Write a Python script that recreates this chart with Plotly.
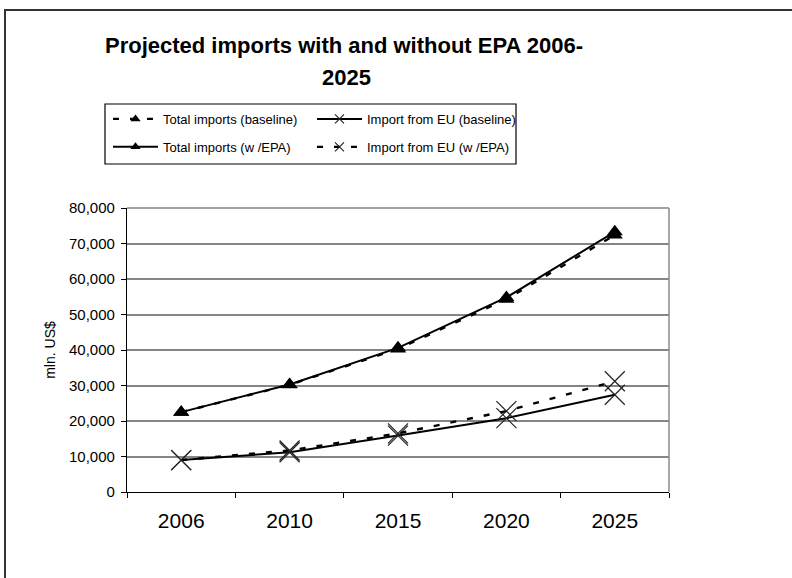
import plotly.graph_objects as go

# Projected import values, million US$
years = ["2006", "2010", "2015", "2020", "2025"]
total_baseline = [22500, 30200, 40300, 54300, 72400]
total_epa = [22500, 30300, 40600, 54800, 73300]
eu_baseline = [9000, 11200, 15900, 20800, 27400]
eu_epa = [9000, 11700, 16500, 22800, 31200]

series = [
    # name, values, dashed, symbol, legend column
    ("Total imports (baseline)", total_baseline, True, "triangle-up", "legend"),
    ("Total imports (w /EPA)", total_epa, False, "triangle-up", "legend"),
    ("Import from EU (baseline)", eu_baseline, False, "x-thin", "legend2"),
    ("Import from EU (w /EPA)", eu_epa, True, "x-thin", "legend2"),
]

W, H = 792, 578
PL, PR, PT, PB = 127, 669, 208, 492  # plot area in pixels


def px(x):
    return (x - PL) / (PR - PL)


def py(y):
    return (PB - y) / (PB - PT)


FONT = "Liberation Sans, Arial, sans-serif"
DASH = "6px,11px"


def marker_style(symbol, big):
    if symbol == "x-thin":
        return dict(symbol="x-thin", size=20 if big else 9,
                    line=dict(color="#222", width=1.2 if big else 1.1))
    return dict(symbol="triangle-up", size=14 if big else 9, color="black")


fig = go.Figure()

# data series
for i, (name, vals, dashed, symbol, leg) in enumerate(series):
    fig.add_trace(go.Scatter(
        x=years, y=vals, name=name, mode="lines+markers", showlegend=False,
        line=dict(color="black", width=2.4 if dashed else 2,
                  dash=DASH if dashed else "solid"),
        marker=marker_style(symbol, True),
    ))

# legend keys (smaller markers than on the lines)
for i, (name, vals, dashed, symbol, leg) in enumerate(series):
    fig.add_trace(go.Scatter(
        x=[None], y=[None], name=name, mode="lines+markers",
        legend=leg, legendgroup=f"g{i}",
        line=dict(color="black", width=2.2 if dashed else 2,
                  dash=DASH if dashed else "solid"),
        marker=marker_style(symbol, False),
    ))

legend_common = dict(
    font=dict(family=FONT, size=13, color="black"),
    bgcolor="rgba(0,0,0,0)", borderwidth=0,
    orientation="v", yanchor="top", xanchor="left",
    tracegroupgap=8, itemwidth=45,
)

shapes = [
    # plot area top and right edges
    dict(type="line", xref="paper", yref="paper", x0=0, x1=1, y0=1, y1=1,
         line=dict(color="#858585", width=1.5)),
    dict(type="line", xref="paper", yref="paper", x0=1, x1=1, y0=0, y1=1,
         line=dict(color="#8a8a8a", width=1.5)),
    # legend frame
    dict(type="rect", xref="paper", yref="paper",
         x0=px(105), x1=px(516), y0=py(104), y1=py(164),
         line=dict(color="black", width=1.2)),
    # chart frame (top and left edges)
    dict(type="path", xref="paper", yref="paper",
         path=f"M {px(5)},{py(600)} L {px(5)},{py(10)} L {px(800)},{py(10)}",
         line=dict(color="#333", width=2)),
]

annotations = [
    dict(text="<b>Projected imports with and without EPA 2006-</b>",
         x=px(344), y=py(45), xref="paper", yref="paper",
         xanchor="center", yanchor="middle", showarrow=False,
         font=dict(family=FONT, size=22, color="black")),
    dict(text="<b>2025</b>",
         x=px(346), y=py(78), xref="paper", yref="paper",
         xanchor="center", yanchor="middle", showarrow=False,
         font=dict(family=FONT, size=22, color="black")),
]

fig.update_layout(
    width=W, height=H,
    margin=dict(l=PL, r=W - PR, t=PT, b=H - PB, autoexpand=False),
    paper_bgcolor="white", plot_bgcolor="white",
    showlegend=True,
    legend=dict(**legend_common, x=px(108), y=py(104)),
    legend2=dict(**legend_common, x=px(312), y=py(104)),
    shapes=shapes,
    annotations=annotations,
    xaxis=dict(
        type="category", tickson="boundaries",
        showgrid=False, showline=True, linecolor="black", linewidth=1.3,
        ticks="outside", ticklen=5, tickcolor="black", tickwidth=1.3,
        tickfont=dict(family=FONT, size=21, color="black"),
        ticklabelstandoff=10,
        range=[-0.5, 4.5], fixedrange=True,
    ),
    yaxis=dict(
        range=[0, 80000], dtick=10000, tickformat=",d",
        showgrid=True, gridcolor="#858585", gridwidth=1.5,
        zeroline=False, showline=True, linecolor="black", linewidth=1.3,
        ticks="outside", ticklen=5, tickcolor="black", tickwidth=1.3,
        tickfont=dict(family=FONT, size=15, color="black"),
        ticklabelstandoff=3,
        title=dict(text="mln. US$", standoff=10,
                   font=dict(family=FONT, size=14, color="black")),
        fixedrange=True,
    ),
)

fig.write_html("out.html")
